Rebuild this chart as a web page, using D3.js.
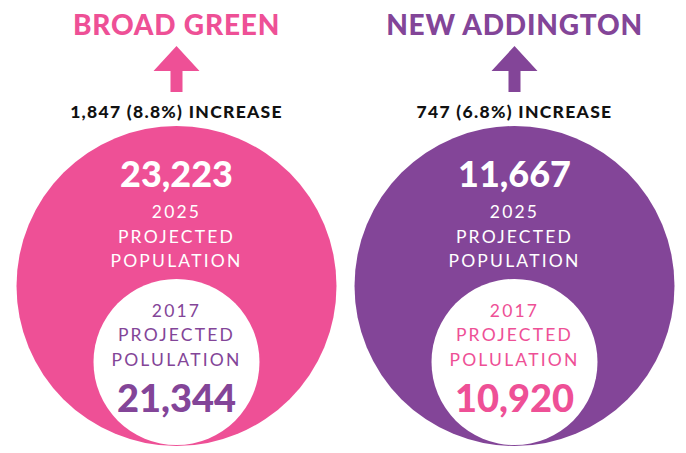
<!DOCTYPE html>
<html>
<head>
<meta charset="utf-8">
<script src="https://cdn.jsdelivr.net/npm/d3@7"></script>
<style>
  body { margin: 0; background: #fff; }
  text { font-family: "Lato", "DejaVu Sans", sans-serif; }
</style>
</head>
<body>
<div id="chart"></div>
<script>
// data
var areas = ["BROAD GREEN", "NEW ADDINGTON"];
var pop2025 = [23223, 11667];
var pop2017 = [21344, 10920];
var increase = [1847, 747];
var pctIncrease = [8.8, 6.8];
var colors = ["#ee5096", "#834598"];

var width = 686, height = 453;
var fmt = d3.format(",");

var x = d3.scaleBand().domain(areas).range([0, 686]).paddingInner(0).paddingOuter(0);
// ring sizes (outer / inner circles)
var rOuter = 160, rInner = 83;
var cyOuter = 286;

var svg = d3.select("#chart")
    .append("svg")
    .attr("width", width)
    .attr("height", height);

var g = svg.selectAll("g.area")
    .data(areas)
    .enter().append("g")
    .attr("class", "area")
    .attr("transform", function(d, i) {
        // small nudge so the two groups sit like the original
        var cx = x(d) + x.bandwidth() / 2 + (i == 0 ? 5 : 0);
        return "translate(" + cx + ",0)";
    });

// title
g.append("text")
    .attr("y", 35)
    .attr("text-anchor", "middle")
    .style("font-size", "28px")
    .style("font-weight", 900)
    .style("letter-spacing", "0.8px")
    .style("fill", function(d, i) { return colors[i]; })
    .text(function(d) { return d; });

// arrow
g.append("path")
    .attr("d", "M0,46 L23,71 L6,71 L6,92 L-6,92 L-6,71 L-23,71 Z")
    .style("fill", function(d, i) { return colors[i]; });

// increase label
g.append("text")
    .attr("y", 118)
    .attr("text-anchor", "middle")
    .style("font-size", "17.5px")
    .style("font-weight", 900)
    .style("letter-spacing", "1.3px")
    .style("fill", "#111")
    .text(function(d, i) { return fmt(increase[i]) + " (" + pctIncrease[i] + "%) INCREASE"; });

// big circle
g.append("circle")
    .attr("cy", cyOuter)
    .attr("r", rOuter)
    .style("fill", function(d, i) { return colors[i]; });

// small circle sits on the bottom of the big one
g.append("circle")
    .attr("cy", cyOuter + rOuter - rInner - 1)
    .attr("r", rInner)
    .style("fill", "#fff");

// 2025 value
g.append("text")
    .attr("y", 187)
    .attr("text-anchor", "middle")
    .style("font-size", "36px")
    .style("font-weight", 900)
    .style("fill", "#fff")
    .text(function(d, i) { return fmt(pop2025[i]); });

var outerLines = ["2025", "PROJECTED", "POPULATION"];
outerLines.forEach(function(l, k) {
    g.append("text")
        .attr("y", 218 + k * 24.5)
        .attr("text-anchor", "middle")
        .style("font-size", "17.5px")
        .style("letter-spacing", "2.2px")
        .style("fill", "#fff")
        .text(l);
});

var innerLines = ["2017", "PROJECTED", "POLULATION"];
innerLines.forEach(function(l, k) {
    g.append("text")
        .attr("y", 317 + k * 24.3)
        .attr("text-anchor", "middle")
        .style("font-size", "17.5px")
        .style("letter-spacing", "2.2px")
        .style("fill", function(d, i) { return colors[1 - i]; })
        .text(l);
});

// 2017 value
g.append("text")
    .attr("y", 412)
    .attr("text-anchor", "middle")
    .style("font-size", "38px")
    .style("font-weight", 900)
    .style("fill", function(d, i) { return colors[1 - i]; })
    .text(function(d, i) { return fmt(pop2017[i]); });
</script>
</body>
</html>
